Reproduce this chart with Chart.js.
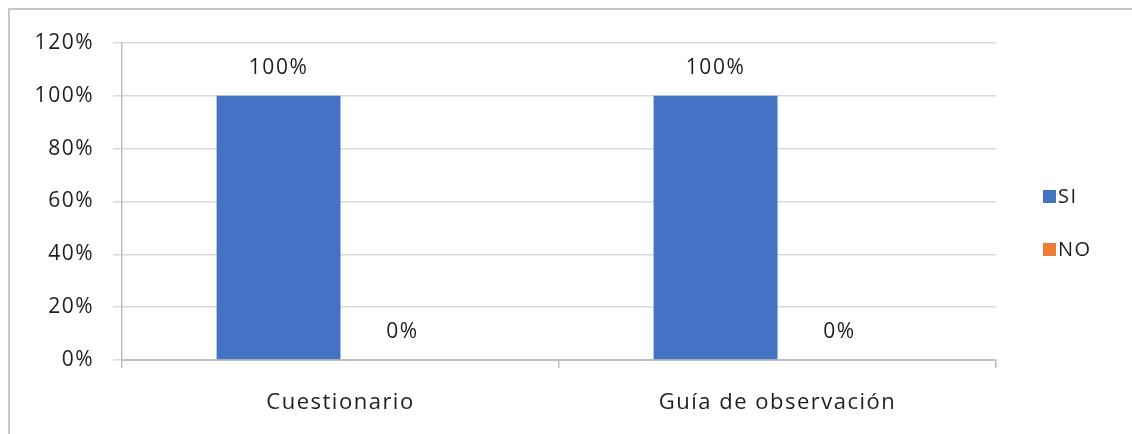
<!DOCTYPE html>
<html>
<head>
<meta charset="utf-8">
<script src="https://cdn.jsdelivr.net/npm/chart.js@4/dist/chart.umd.min.js"></script>
<style>
  body { margin: 0; background: #fff; overflow: hidden; }
  #marco { position: absolute; left: 8px; top: 8px; width: 1200px; height: 500px; border: 2px solid #c8c8c8; }
  #grafica { position: absolute; left: 0; top: 0; }
</style>
</head>
<body>
<div id="marco"></div>
<canvas id="grafica" width="1132" height="434"></canvas>
<script>
const instrumentos = ["Cuestionario", "Guía de observación"]
const si = [100, 100]
const no = [0, 0]
const etiquetasY = ["0%", "20%", "40%", "60%", "80%", "100%", "120%"]

const fuente = "'Open Sans', sans-serif"
const colorTexto = "#1e1e1e"

// Espaciado entre letras para todo el texto del lienzo
const espaciado = {
    id: "espaciado",
    beforeDraw(chart) {
        chart.ctx.letterSpacing = "1.5px"
    }
}

// Etiqueta con el valor encima de cada barra
const valores = {
    id: "valores",
    afterDatasetsDraw(chart) {
        const ctx = chart.ctx
        ctx.save()
        ctx.font = "21px " + fuente
        ctx.fillStyle = colorTexto
        ctx.textAlign = "center"
        ctx.textBaseline = "middle"
        chart.data.datasets.forEach((ds, i) => {
            chart.getDatasetMeta(i).data.forEach((barra, j) => {
                ctx.fillText(ds.data[j] + "%", barra.x, barra.y - 28)
            })
        })
        ctx.restore()
    }
}

// Leyenda a la derecha
const leyenda = {
    id: "leyenda",
    afterDraw(chart) {
        const ctx = chart.ctx
        ctx.save()
        ctx.font = "20px " + fuente
        ctx.textBaseline = "middle"
        ctx.textAlign = "left"
        chart.data.datasets.forEach((ds, i) => {
            const y = 196 + i * 53
            ctx.fillStyle = ds.backgroundColor
            ctx.fillRect(1043, y - 6, 13, 13)
            ctx.fillStyle = colorTexto
            ctx.fillText(ds.label, 1058, y + 1)
        })
        ctx.restore()
    }
}

new Chart(document.getElementById("grafica"), {
    type: "bar",
    data: {
        labels: instrumentos,
        datasets: [
            { label: "SI", data: si, backgroundColor: "#4472c4" },
            { label: "NO", data: no, backgroundColor: "#ed7d31" }
        ]
    },
    options: {
        responsive: false,
        animation: false,
        layout: { padding: { top: 43, right: 136, left: 0, bottom: 0 } },
        datasets: { bar: { categoryPercentage: 0.567, barPercentage: 1 } },
        plugins: { legend: { display: false }, tooltip: { enabled: false } },
        scales: {
            x: {
                afterFit: s => { s.height = 74 },
                grid: { drawOnChartArea: false, tickLength: 8, color: "#bfbfbf", lineWidth: 1.5 },
                border: { color: "#bfbfbf", width: 2 },
                ticks: { padding: 22, color: colorTexto, font: { family: fuente, size: 22 } }
            },
            y: {
                min: 0,
                max: 120,
                afterFit: s => { s.width = 122 },
                grid: { color: "#d9d9d9", lineWidth: 1.5, tickLength: 9 },
                border: { color: "#bfbfbf", width: 1.5 },
                ticks: {
                    stepSize: 20,
                    padding: 19,
                    color: colorTexto,
                    font: { family: fuente, size: 21 },
                    callback: (v, i) => etiquetasY[i]
                }
            }
        }
    },
    plugins: [espaciado, valores, leyenda]
})
</script>
</body>
</html>
